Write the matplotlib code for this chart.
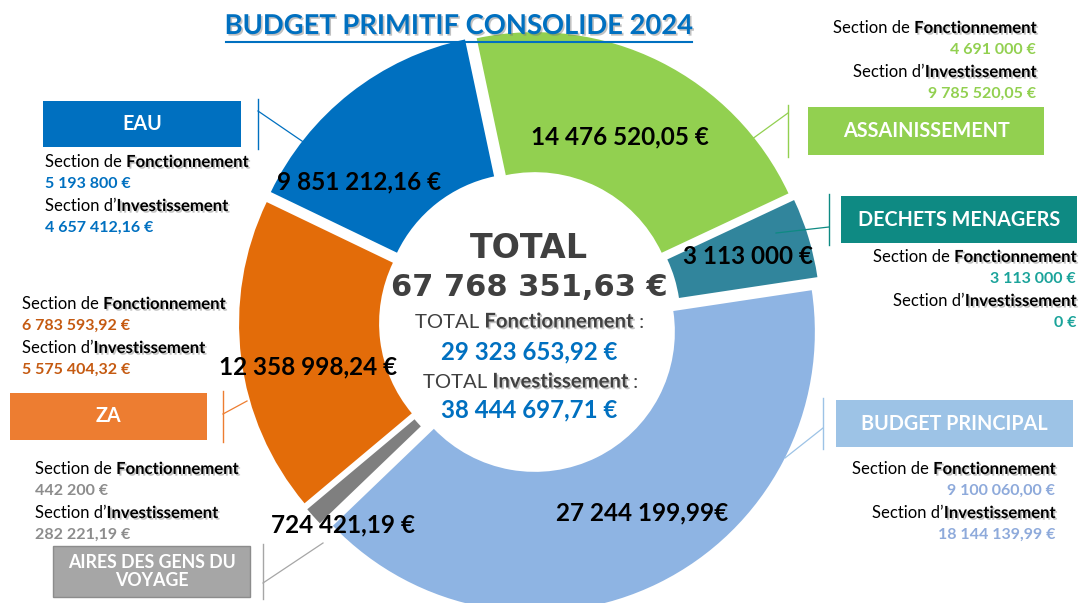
import matplotlib
matplotlib.use("Agg")
import matplotlib.pyplot as plt
import matplotlib.patheffects as pe
from matplotlib.patches import Rectangle

plt.rcParams['font.family'] = ['Lato', 'DejaVu Sans']

# budgets, in pie order (clockwise from the top)
names = ['ASSAINISSEMENT', 'DECHETS MENAGERS', 'BUDGET PRINCIPAL',
         'AIRES DES GENS DU\nVOYAGE', 'ZA', 'EAU']
totals = [14476520.05, 3113000.00, 27244199.99, 724421.19, 12358998.24, 9851212.16]
total_labels = ['14 476 520,05 €', '3 113 000 €', '27 244 199,99€',
                '724 421,19 €', '12 358 998,24 €', '9 851 212,16 €']
fonct_labels = ['4 691 000 €', '3 113 000 €', '9 100 060,00 €',
                '442 200 €', '6 783 593,92 €', '5 193 800 €']
invest_labels = ['9 785 520,05 €', '0 €', '18 144 139,99 €',
                 '282 221,19 €', '5 575 404,32 €', '4 657 412,16 €']
grand_total = '67 768 351,63 €'
total_fonct = '29 323 653,92 €'
total_invest = '38 444 697,71 €'

wedge_colors = ['#92D050', '#31859C', '#8EB4E3', '#7F7F7F', '#E36C09', '#0070C0']
box_colors = ['#92D050', '#0E8A83', '#9DC3E6', '#A6A6A6', '#ED7D31', '#0070C0']
amount_colors = ['#92D050', '#1AA39A', '#8EAADB', '#8C8C8C', '#C55A11', '#0070C0']

# layout in pixel coords: box, separator x, leader line, detail anchor, value label
layout = [
    dict(box=(808, 107, 1044, 155), sep=788, lead=((788, 113), (748, 142)),
         dx=1036, dy=28, ha='right', val=(620, 137)),
    dict(box=(841, 196, 1077, 243), sep=829, lead=((829, 227), (776, 233)),
         dx=1076, dy=257, ha='right', val=(748, 257)),
    dict(box=(836, 400, 1073, 447), sep=823, lead=((823, 428), (785, 458)),
         dx=1055, dy=469, ha='right', val=(642, 513)),
    dict(box=(53, 546, 250, 597), sep=263, lead=((263, 583), (323, 543)),
         dx=35, dy=469, ha='left', val=(343, 525)),
    dict(box=(10, 393, 207, 440), sep=223, lead=((223, 414), (247, 401)),
         dx=22, dy=304, ha='left', val=(308, 367)),
    dict(box=(43, 101, 241, 147), sep=258, lead=((258, 111), (318, 152)),
         dx=45, dy=162, ha='left', val=(359, 182)),
]

shadow = [pe.withSimplePatchShadow(offset=(1.2, -1.2), shadow_rgbFace='#777777', alpha=0.45)]

fig = plt.figure(figsize=(10.8, 6.03), dpi=100)
ax = fig.add_axes([0, 0, 1, 1])

# y axis runs downwards, so angles are mirrored; explode is in pixels here
ax.pie(totals, colors=wedge_colors, startangle=-102, counterclock=True,
       radius=280, center=(530, 322), explode=[11] * len(totals),
       wedgeprops=dict(width=140, edgecolor='none'))
ax.set_xlim(0, 1080)
ax.set_ylim(603, 0)
ax.set_aspect('auto')
ax.axis('off')


def rich_line(x, y, regular, bold, ha, color='black', size=12):
    """'Section de' + bold word, left or right aligned on x"""
    if ha == 'left':
        t1 = ax.text(x, y, regular, fontsize=size, color=color, ha='left', va='center')
        ax.annotate(bold, xy=(1, 0), xycoords=t1, fontsize=size, fontweight='bold',
                    color=color, ha='left', va='bottom', path_effects=shadow)
    else:
        t1 = ax.text(x, y, bold, fontsize=size, fontweight='bold', color=color,
                     ha='right', va='center', path_effects=shadow)
        ax.annotate(regular, xy=(0, 0), xycoords=t1, fontsize=size, color=color,
                    ha='right', va='bottom')


for i, lay in enumerate(layout):
    x0, y0, x1, y1 = lay['box']
    ax.add_patch(Rectangle((x0, y0), x1 - x0, y1 - y0, facecolor=box_colors[i],
                           edgecolor='#8C8C8C' if i == 3 else 'none', lw=1, zorder=3))
    fs = 12.8 if i == 3 else 14.2
    ax.text((x0 + x1) / 2, (y0 + y1) / 2, names[i], color='white', fontsize=fs,
            fontweight='bold', ha='center', va='center', linespacing=1.1, zorder=4)
    ax.plot([lay['sep'], lay['sep']], [y0 - 2, y1 + 2], color=box_colors[i], lw=1)
    (ax_, ay_), (bx_, by_) = lay['lead']
    ax.plot([ax_, bx_], [ay_, by_], color=box_colors[i], lw=0.9, zorder=2)

    dx, dy, ha = lay['dx'], lay['dy'], lay['ha']
    rich_line(dx, dy, 'Section de ', 'Fonctionnement', ha)
    ax.text(dx, dy + 22, fonct_labels[i], color=amount_colors[i], fontsize=11.5,
            fontweight='bold', ha=ha, va='center')
    rich_line(dx, dy + 44, 'Section d\u2019', 'Investissement', ha)
    ax.text(dx, dy + 66, invest_labels[i], color=amount_colors[i], fontsize=11.5,
            fontweight='bold', ha=ha, va='center')

    vx, vy = lay['val']
    ax.text(vx, vy, total_labels[i], color='black', fontsize=17.5, fontweight='bold',
            ha='center', va='center', zorder=5)

# centre of the donut
ax.text(529, 249, 'TOTAL', color='#404040', fontsize=24, fontweight='bold',
        family='DejaVu Sans', ha='center', va='center')
ax.text(529, 287, grand_total, color='#404040', fontsize=22, fontweight='bold',
        family='DejaVu Sans', ha='center', va='center')
t = ax.text(415, 323, 'TOTAL ', color='#404040', fontsize=14.6, ha='left', va='center')
t = ax.annotate('Fonctionnement', xy=(1, 0), xycoords=t, color='#404040', fontsize=14.6,
                fontweight='bold', ha='left', va='bottom', path_effects=shadow)
ax.annotate(' :', xy=(1, 0), xycoords=t, color='#404040', fontsize=14.6, ha='left', va='bottom')
ax.text(529, 352, total_fonct, color='#0070C0', fontsize=17.3, fontweight='bold',
        ha='center', va='center')
t = ax.text(423, 383, 'TOTAL ', color='#404040', fontsize=14.6, ha='left', va='center')
t = ax.annotate('Investissement', xy=(1, 0), xycoords=t, color='#404040', fontsize=14.6,
                fontweight='bold', ha='left', va='bottom', path_effects=shadow)
ax.annotate(' :', xy=(1, 0), xycoords=t, color='#404040', fontsize=14.6, ha='left', va='bottom')
ax.text(529, 410, total_invest, color='#0070C0', fontsize=17.3, fontweight='bold',
        ha='center', va='center')

# title
ax.text(459, 26, 'BUDGET PRIMITIF CONSOLIDE 2024', color='#0070C0', fontsize=19.7,
        fontweight='bold', ha='center', va='center', path_effects=shadow)
ax.plot([226, 692], [42, 42], color='#0070C0', lw=1.5)

fig.savefig('out.png', dpi=100, facecolor='white')
